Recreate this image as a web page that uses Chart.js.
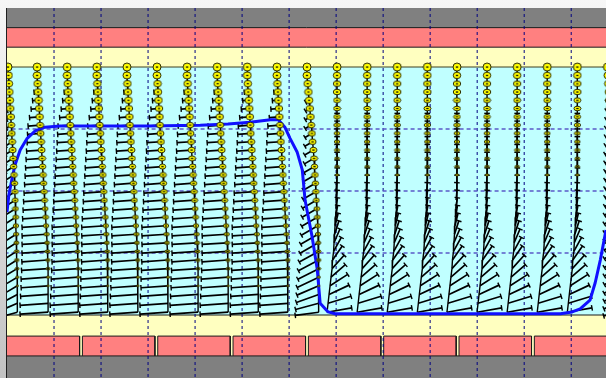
<!DOCTYPE html>
<html><head><meta charset="utf-8">
<script src="https://cdn.jsdelivr.net/npm/chart.js@4.4.1/dist/chart.umd.min.js"></script>
<style>
html,body{margin:0;padding:0;width:606px;height:378px;overflow:hidden;background:linear-gradient(to bottom,#f7f7f7,#c2c2c2);}
#c{position:absolute;left:0;top:0;}
</style></head><body>
<canvas id="c" width="606" height="378" style="width:606px;height:378px"></canvas>
<script>
// ---------------- data (x: horizontal distance, y: elevation) ----------------
const columnX = [0.2, 6.4, 12.8, 19.1, 25.5, 31.9, 38.3, 44.7, 51.1, 57.4, 63.8, 70.2, 76.6, 83.0, 89.4, 95.7, 102.1, 108.5, 114.9, 121.3, 127.7];
const columnKind = ['edge','crest','crest','crest','crest','crest','crest','crest','crest','crest','fall','trough','trough','trough','trough','trough','trough','trough','trough','trough','edge'];
const levelY = [0, -1.34, -2.68, -4.02, -5.35, -6.69, -8.03, -9.37, -10.71, -12.05, -13.39, -14.73, -16.06, -17.40, -18.74, -20.11, -21.48, -22.85, -24.23, -25.60, -26.97, -28.35, -29.74, -31.13, -32.52, -33.90, -35.29, -36.68, -38.11, -39.55];

const crestDrift = [0,0,0.11,0.21,0.32,0.43,0.53,0.64,0.74,0.85,0.96,1.06,1.17,1.28,1.38,1.49,1.60,1.70,1.81,1.91,2.02,2.13,2.23,2.30,2.34,2.34,2.34,2.34,2.34,2.34];
const crestU = [0,-0.21,-0.43,-0.85,-1.28,-1.70,-2.13,-2.55,-2.77,-2.98,-3.19,-3.40,-3.62,-3.83,-4.04,-4.26,-4.47,-4.68,-4.89,-5.11,-5.21,-5.32,-5.43,-5.53,-5.64,-5.74,-5.74,-5.85,-5.96,-5.96];
const crestV = [0,0,0,-0.05,-0.08,-0.10,-0.13,-0.16,-0.16,-0.16,-0.19,-0.19,-0.21,-0.21,-0.23,-0.24,-0.24,-0.24,-0.26,-0.26,-0.27,-0.27,-0.29,-0.29,-0.29,-0.31,-0.31,-0.32,-0.32,-0.32];

const troughDrift = [0,0,0,0,0,0,0,0,0,0,0,0,0,0,-0.06,-0.11,-0.17,-0.21,-0.32,-0.43,-0.53,-0.64,-0.74,-0.96,-1.06,-1.28,-1.49,-1.70,-1.91,-2.13];
const troughU = [0,0,0,0,0,0,0,0,0,0,0,0,0.02,0.03,0.06,0.10,0.19,0.29,0.44,0.67,0.92,1.25,1.65,2.07,2.56,3.05,3.75,4.24,4.88,5.24];
const troughV = [0,0.16,0.24,0.32,0.40,0.48,0.56,0.65,0.73,0.81,0.89,0.97,1.05,1.13,1.29,1.45,1.61,1.76,1.91,2.03,2.15,2.23,2.26,2.25,2.16,2.01,1.84,1.50,1.13,0.70];

const fallDrift = [0,0,0.15,0.3,0.45,0.6,0.75,0.9,1.05,1.2,1.35,1.5,1.6,1.7,1.8,1.9,2.0,2.1,2.2,2.3,2.35,2.4,2.45,2.5,2.5,2.5,2.5,2.5,2.5,2.5];
const fallU = [0,-0.18,-0.37,-0.55,-0.74,-0.92,-1.11,-1.29,-1.47,-1.66,-1.84,-2.03,-2.21,-2.40,-2.58,-2.76,-2.95,-3.13,-3.32,-3.50,-3.69,-3.87,-4.09,-4.32,-4.45,-4.59,-4.63,-4.76,-4.93,-5.00];
const fallV = [0,-0.08,-0.16,-0.24,-0.32,-0.40,-0.48,-0.56,-0.65,-0.73,-0.81,-0.89,-0.97,-1.05,-1.13,-1.21,-1.29,-1.37,-1.45,-1.53,-1.61,-1.69,-1.72,-1.74,-1.72,-1.65,-1.5,-1.3,-1.0,-0.5];

const edgeDrift = [0,0.1,0.2,0.3,0.4,0.5,0.6,0.7,0.8,0.9,1.0,1.1,1.2,1.3,1.4,1.5,1.55,1.6,1.65,1.7,1.75,1.8,1.85,1.9,1.95,2.0,2.0,2.0,2.0,2.0];
const edgeU = [0,-0.15,-0.3,-0.45,-0.6,-0.75,-0.9,-1.05,-1.2,-1.35,-1.5,-1.6,-1.7,-1.8,-1.9,-2.0,-2.1,-2.2,-2.3,-2.35,-2.4,-2.45,-2.5,-2.55,-2.6,-2.65,-2.7,-2.7,-2.75,-2.8];
const edgeV = [0,-0.07,-0.14,-0.21,-0.28,-0.35,-0.42,-0.49,-0.56,-0.63,-0.7,-0.75,-0.8,-0.85,-0.9,-0.95,-1.0,-1.05,-1.1,-1.12,-1.14,-1.16,-1.18,-1.2,-1.2,-1.2,-1.2,-1.1,-0.9,-0.6];

const surfaceX = [0, 0.4, 1.1, 1.7, 2.8, 4.3, 6.0, 8.1, 11.3, 20, 30, 41.1, 47, 51.7, 56.0, 57.7, 59.1, 60.2, 61.7, 62.8, 63.4, 64.9, 66.0, 66.6, 68.3, 69.8, 90, 117.7, 120.2, 121.9, 124.0, 125.1, 126.2, 127.4];
const surfaceY = [-23.4, -20.6, -17.9, -15.8, -13.4, -11.5, -10.3, -9.7, -9.5, -9.5, -9.5, -9.4, -9.2, -8.9, -8.5, -8.5, -9.7, -11.5, -13.7, -16.6, -21.5, -27.4, -32.7, -38.1, -39.5, -39.8, -39.8, -39.8, -39.5, -39.0, -37.6, -34.8, -31.1, -26.3];

const gridX = [10, 20, 30, 40, 50, 60, 70, 80, 90, 100, 110, 120];
const gridY = [-10, -20, -30];
const bandEdges = [9.52, 6.35, 3.2, 0, -40, -43.4, -46.6, -50.16];
const bedGaps = [15.74, 31.76, 47.78, 63.8, 79.82, 95.84, 111.86];

// ---------------- styles ----------------
const orbitCrestW = [8,8,7.5,7.5,7.5,7.5,7.5,7,7,7,7,7,6.5,6.5,6.5,6.5,6,6,6,5.5,5.5,5,5,4.5,4,3.5,2.5,0,0,0];
const orbitCrestH = [8,7,6.5,6.5,6.5,6,6,5.5,5.5,5.5,5.5,5,5,5,4.5,4.5,4.5,4,4,4,3.5,3.5,3,3,2.5,2,1.5,0,0,0];
const orbitTroughW = [8,7.5,7.5,7.5,7,7,6.5,6.5,6,5.5,5.5,5,4.5,3.5,0,0,0,0,0,0,0,0,0,0,0,0,0,0,0,0];
const orbitTroughH = [8,6.5,5.5,5.5,5,4.5,4.5,4,3.5,3.5,3,2.5,2.5,2,0,0,0,0,0,0,0,0,0,0,0,0,0,0,0,0];

const profiles = {
  crest: {d: crestDrift, u: crestU, v: crestV, w: orbitCrestW, h: orbitCrestH},
  trough: {d: troughDrift, u: troughU, v: troughV, w: orbitTroughW, h: orbitTroughH},
  fall: {d: fallDrift, u: fallU, v: fallV, w: orbitCrestW, h: orbitCrestH},
  edge: {d: edgeDrift, u: edgeU, v: edgeV, w: orbitCrestW, h: orbitCrestH}
};

const sticks = [], tips = [], orbits = [], paths = [];
columnX.forEach((cx, i) => {
  const p = profiles[columnKind[i]];
  levelY.forEach((ly, j) => {
    const bx = cx + p.d[j], by = ly;
    const tx = bx + p.u[j], ty = by + p.v[j];
    sticks.push({x: bx, y: by}, {x: tx, y: ty}, {x: tx, y: null});
    tips.push({x: tx, y: ty, bx: bx, by: by});
    orbits.push({x: bx, y: by, w: p.w[j], h: p.h[j]});
    paths.push({x: bx, y: by});
  });
  paths.push({x: cx, y: null});
});

const imgCache = {};
function orbitImg(w, h) {
  const key = w + 'x' + h;
  if (imgCache[key]) return imgCache[key];
  const c = document.createElement('canvas');
  c.width = Math.ceil(w) + 2; c.height = Math.ceil(h) + 2;
  const g = c.getContext('2d');
  g.beginPath();
  g.ellipse(c.width / 2, c.height / 2, w / 2, h / 2, 0, 0, Math.PI * 2);
  g.fillStyle = '#ffff00'; g.fill();
  g.lineWidth = 1; g.strokeStyle = '#2a2a00'; g.stroke();
  if (w >= 4) { g.fillStyle = '#101000'; g.fillRect(c.width / 2 - 1.2, c.height / 2 - 0.6, 2.4, 1.3); }
  imgCache[key] = c;
  return c;
}

const datasets = [];
const bandColors = ['#808080', '#ff8080', '#ffffc0', '#c0ffff', '#ffffc0', '#ffffc0', '#808080'];
for (let k = 0; k < bandColors.length; k++) {
  datasets.push({data: [{x: -2, y: bandEdges[k]}, {x: 130, y: bandEdges[k]}], fill: {value: bandEdges[k + 1]},
    backgroundColor: bandColors[k], borderWidth: 0, pointRadius: 0, order: 20, clip: 0});
}
// bed blocks
const bedEdges = [-2].concat(bedGaps, [130]);
for (let k = 0; k < bedEdges.length - 1; k++) {
  const x0 = k === 0 ? bedEdges[k] : bedEdges[k] + 0.3;
  const x1 = k === bedEdges.length - 2 ? bedEdges[k + 1] : bedEdges[k + 1] - 0.3;
  datasets.push({data: [{x: x0, y: bandEdges[6]}, {x: x0, y: bandEdges[5]}, {x: x1, y: bandEdges[5]}, {x: x1, y: bandEdges[6]}],
    fill: {value: bandEdges[6]}, backgroundColor: '#ff8080', borderColor: '#1a1a1a', borderWidth: 1, pointRadius: 0, order: 19, clip: 0});
}
// band border lines
[1, 2, 3, 4, 6].forEach(k => {
  datasets.push({data: [{x: -2, y: bandEdges[k]}, {x: 130, y: bandEdges[k]}], borderColor: k === 3 ? '#404020' : '#1a1a1a',
    borderWidth: 1, pointRadius: 0, order: 18, clip: 0});
});
// grid
gridY.forEach(gy => datasets.push({data: [{x: -2, y: gy}, {x: 130, y: gy}], borderColor: '#5a5ac8', borderWidth: 1.4,
  borderDash: [4, 3], pointRadius: 0, order: 17, clip: 0}));
gridX.forEach(gx => datasets.push({data: [{x: gx, y: 9.52}, {x: gx, y: -50.16}], borderColor: '#000080', borderWidth: 1,
  borderDash: [3, 3], pointRadius: 0, order: 17, clip: 0}));
// particle paths
datasets.push({data: paths, borderColor: '#000', borderWidth: 1.4, pointRadius: 0, order: 10, clip: 0, spanGaps: false});
// sticks
datasets.push({data: sticks, borderColor: '#000', borderWidth: 1.7, pointRadius: 0, order: 9, clip: 0, spanGaps: false});
function pixLen(ctx) {
  const r = ctx.raw; if (!r) return [0, 0];
  const xs = ctx.chart.scales.x, ys = ctx.chart.scales.y;
  return [xs.getPixelForValue(r.x) - xs.getPixelForValue(r.bx), ys.getPixelForValue(r.y) - ys.getPixelForValue(r.by)];
}
datasets.push({data: tips, showLine: false, pointStyle: 'line', pointBorderColor: '#000', pointBorderWidth: 1.4,
  pointRadius: ctx => { const d = pixLen(ctx); return Math.hypot(d[0], d[1]) > 3 ? 2.8 : 0; },
  pointRotation: ctx => { const d = pixLen(ctx); return Math.atan2(d[1], d[0]) * 180 / Math.PI + 90; },
  order: 8, clip: 0});
// surface
datasets.push({data: surfaceX.map((x, i) => ({x: x, y: surfaceY[i]})), borderColor: '#1010ff', borderWidth: 3,
  pointRadius: 0, order: 5, clip: 0, borderJoinStyle: 'round'});
// orbits
datasets.push({data: orbits, showLine: false,
  pointStyle: ctx => (ctx.raw && ctx.raw.w > 0) ? orbitImg(ctx.raw.w, ctx.raw.h) : 'circle',
  pointRadius: ctx => (ctx.raw && ctx.raw.w > 0) ? 3 : 0,
  order: 2, clip: 0});

const framePlugin = {
  id: 'frame',
  afterDraw(chart) {
    const g = chart.ctx, a = chart.chartArea;
    g.save(); g.strokeStyle = '#202020'; g.lineWidth = 1;
    g.beginPath(); g.moveTo(a.left - 0.5, a.top); g.lineTo(a.left - 0.5, a.bottom); g.stroke();
    g.restore();
  }
};

new Chart(document.getElementById('c'), {
  type: 'line',
  data: {datasets: datasets},
  options: {
    responsive: false, animation: false, devicePixelRatio: 1,
    layout: {autoPadding: false, padding: {left: 7, top: 8, right: 0, bottom: 0}},
    scales: {
      x: {type: 'linear', min: 0, max: 127.4, display: false},
      y: {type: 'linear', min: -50.16, max: 9.52, display: false}
    },
    plugins: {legend: {display: false}, tooltip: {enabled: false}},
    elements: {line: {tension: 0}}
  },
  plugins: [framePlugin]
});
</script>
</body></html>
